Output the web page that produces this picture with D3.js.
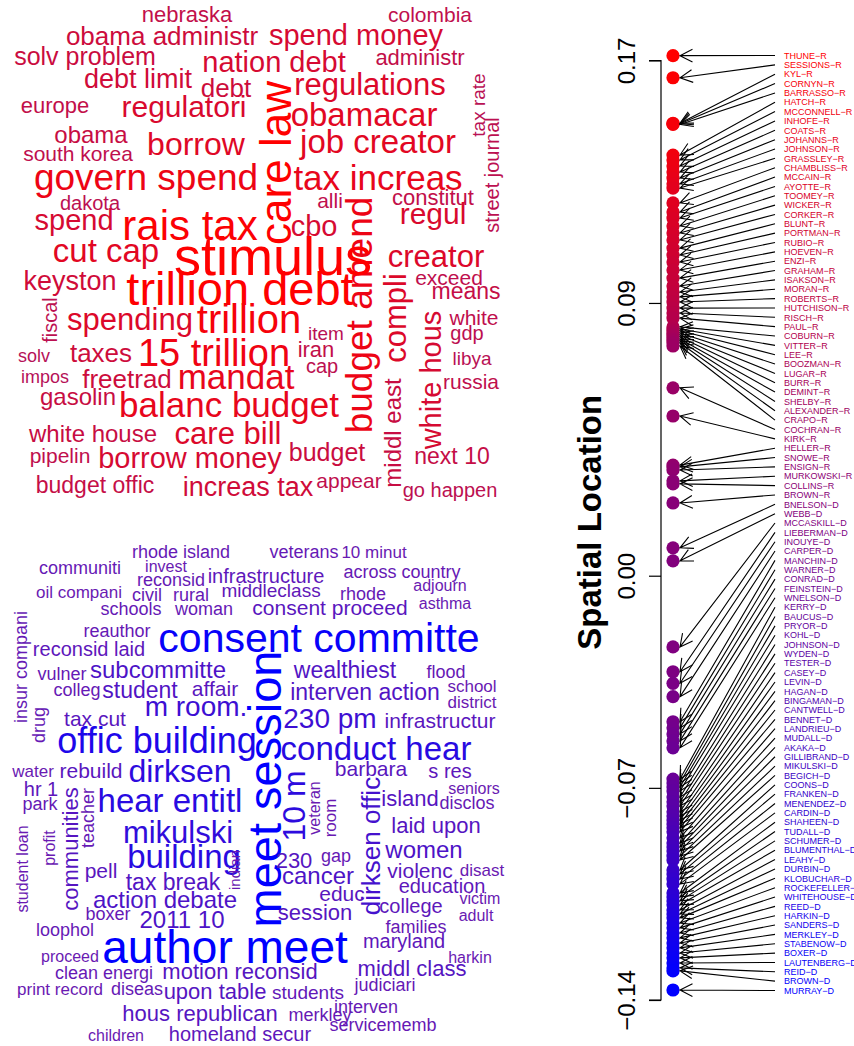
<!DOCTYPE html>
<html>
<head>
<meta charset="utf-8">
<script src="https://cdn.jsdelivr.net/npm/d3@7"></script>
<style>
  body { margin: 0; background: #fff; }
  text { font-family: "Liberation Sans", Arial, Helvetica, sans-serif; }
</style>
</head>
<body>
<svg id="chart" width="854" height="1046"></svg>
<script>
// ---------------------------------------------------------------
// Senators, ordered from the highest to the lowest spatial location
// ---------------------------------------------------------------
const senators = [
  "THUNE-R","SESSIONS-R","KYL-R","CORNYN-R","BARRASSO-R","HATCH-R","MCCONNELL-R","INHOFE-R","COATS-R","JOHANNS-R",
  "JOHNSON-R","GRASSLEY-R","CHAMBLISS-R","MCCAIN-R","AYOTTE-R","TOOMEY-R","WICKER-R","CORKER-R","BLUNT-R","PORTMAN-R",
  "RUBIO-R","HOEVEN-R","ENZI-R","GRAHAM-R","ISAKSON-R","MORAN-R","ROBERTS-R","HUTCHISON-R","RISCH-R","PAUL-R",
  "COBURN-R","VITTER-R","LEE-R","BOOZMAN-R","LUGAR-R","BURR-R","DEMINT-R","SHELBY-R","ALEXANDER-R","CRAPO-R",
  "COCHRAN-R","KIRK-R","HELLER-R","SNOWE-R","ENSIGN-R","MURKOWSKI-R","COLLINS-R","BROWN-R","BNELSON-D","WEBB-D",
  "MCCASKILL-D","LIEBERMAN-D","INOUYE-D","CARPER-D","MANCHIN-D","WARNER-D","CONRAD-D","FEINSTEIN-D","WNELSON-D","KERRY-D",
  "BAUCUS-D","PRYOR-D","KOHL-D","JOHNSON-D","WYDEN-D","TESTER-D","CASEY-D","LEVIN-D","HAGAN-D","BINGAMAN-D",
  "CANTWELL-D","BENNET-D","LANDRIEU-D","MUDALL-D","AKAKA-D","GILLIBRAND-D","MIKULSKI-D","BEGICH-D","COONS-D","FRANKEN-D",
  "MENENDEZ-D","CARDIN-D","SHAHEEN-D","TUDALL-D","SCHUMER-D","BLUMENTHAL-D","LEAHY-D","DURBIN-D","KLOBUCHAR-D","ROCKEFELLER-D",
  "WHITEHOUSE-D","REED-D","HARKIN-D","SANDERS-D","MERKLEY-D","STABENOW-D","BOXER-D","LAUTENBERG-D","REID-D","BROWN-D",
  "MURRAY-D"
];

// Estimated spatial location of each senator (same order as above)
const locations = [
  0.1716, 0.1643, 0.1493, 0.1491, 0.1489, 0.1388, 0.1372, 0.1352, 0.1332, 0.1312,
  0.1293, 0.1279, 0.1230, 0.1200, 0.1180, 0.1154, 0.1131, 0.1108, 0.1081, 0.1058,
  0.1035, 0.1009, 0.0982, 0.0956, 0.0936, 0.0920, 0.0903, 0.0883, 0.0867, 0.0850,
  0.0821, 0.0814, 0.0808, 0.0801, 0.0794, 0.0788, 0.0781, 0.0775, 0.0768, 0.0758,
  0.0620, 0.0527, 0.0365, 0.0359, 0.0349, 0.0313, 0.0303, 0.0240, 0.0092, 0.0049,
  -0.0235, -0.0317, -0.0355, -0.0399, -0.0482, -0.0502, -0.0522, -0.0545, -0.0568, -0.0671,
  -0.0684, -0.0697, -0.0710, -0.0730, -0.0746, -0.0760, -0.0779, -0.0793, -0.0806, -0.0819,
  -0.0832, -0.0845, -0.0865, -0.0882, -0.0895, -0.0908, -0.0925, -0.0938, -0.0971, -0.0984,
  -0.1001, -0.1017, -0.1047, -0.1060, -0.1073, -0.1086, -0.1103, -0.1116, -0.1129, -0.1146,
  -0.1162, -0.1179, -0.1195, -0.1212, -0.1228, -0.1245, -0.1261, -0.1278, -0.1294, -0.1304,
  -0.1367
];

const axisTicks = [0.17, 0.09, 0.00, -0.07, -0.14];
const axisTitle = "Spatial Location";

// ---------------------------------------------------------------
// Word clouds: terms and their weights
// ---------------------------------------------------------------
const rightWords = [
  "nebraska","colombia","obama administr","spend money","solv problem","nation debt","administr","debt limit","debt","regulations",
  "europe","regulatori","obamacar","tax rate","obama","borrow","job creator","street journal","south korea","care law",
  "govern spend","tax increas","dakota","alli","constitut","spend","rais tax","cbo","regul","budget amend",
  "cut cap","stimulus","creator","keyston","trillion debt","compli","exceed","means","fiscal","spending",
  "trillion","item","white","white hous","middl east","gdp","iran","solv","15 trillion","taxes",
  "cap","libya","impos","freetrad","mandat","russia","gasolin","balanc budget","white house","care bill",
  "pipelin","borrow money","budget","next 10","budget offic","increas tax","appear","go happen"
];
const rightWeights = [
  22, 21, 26, 29, 25, 29, 22, 27, 26, 31,
  22, 30, 33, 19, 24, 32, 33, 20, 21, 44,
  37, 35, 20, 21, 22, 29, 42, 29, 30, 37,
  33, 54, 31, 27, 47, 31, 21, 23, 20, 31,
  40, 19, 21, 29, 24, 20, 22, 18, 38, 26,
  20, 19, 18, 26, 35, 21, 24, 35, 24, 31,
  21, 29, 25, 23, 23, 27, 21, 20
];

const leftWords = [
  "rhode island","veterans","10 minut","communiti","invest","across country","reconsid","infrastructure","adjourn","oil compani",
  "civil","rural","middleclass","rhode","schools","woman","consent proceed","asthma","insur compani","reauthor",
  "consent committe","reconsid laid","vulner","subcommitte","wealthiest","flood","colleg","student","affair","meet session",
  "interven action","school","district","drug","tax cut","m room.","230 pm","infrastructur","offic building","conduct hear",
  "water","rebuild","dirksen","10 m","veteran","room","barbara","s res","hr 1","island",
  "seniors","disclos","communities","teacher","park","hear entitl","laid upon","student loan","profit","mikulski",
  "dirksen offic","230","gap","women","pell","building","cancer","violenc","disast","tax break",
  "indian","educ","education","action debate","victim","session","college","adult","2011 10","boxer",
  "families","loophol","author meet","maryland","harkin","proceed","clean energi","motion reconsid","middl class","print record",
  "diseas","upon table","students","judiciari","interven","hous republican","merkley","servicememb","children","homeland secur"
];
const leftWeights = [
  18, 18, 17, 18, 16, 18, 18, 20, 16, 17,
  18, 18, 19, 18, 18, 18, 21, 16, 18, 18,
  41, 20, 18, 24, 23, 18, 18, 23, 21, 47,
  23, 17, 17, 18, 21, 28, 28, 21, 36, 33,
  17, 21, 32, 32, 16, 17, 21, 20, 20, 22,
  16, 18, 22, 18, 18, 33, 22, 16, 16, 31,
  26, 22, 18, 24, 21, 33, 24, 21, 17, 23,
  15, 21, 20, 24, 16, 22, 20, 16, 24, 18,
  18, 18, 46, 20, 16, 16, 18, 22, 22, 17,
  18, 22, 19, 18, 18, 22, 18, 18, 16, 20
];

// Placement of each term inside its cloud: [x, baseline y, rotation]
const rightPlacement = [
  [187,22,0],[430,22,0],[162,45,0],[356,45,0],[85,65,0],[274,72,0],[420,65,0],[138,88,0],[226,97,0],[370,95,0],
  [55,113,0],[184,117,0],[364,126,0],[485,105,-90],[91,143,0],[196,155,0],[378,153,0],[499,175,-90],[78,161,0],[291,163,-90],
  [146,190,0],[378,190,0],[90,210,0],[330,208,0],[433,205,0],[74,230,0],[190,240,0],[314,236,0],[433,224,0],[372,315,-90],
  [106,262,0],[273,275,0],[436,267,0],[70,290,0],[240,305,0],[406,318,-90],[449,285,0],[466,299,0],[57,320,-90],[130,330,0],
  [249,333,0],[326,340,0],[474,325,0],[441,380,-90],[401,433,-90],[467,340,0],[316,357,0],[34,362,0],[214,366,0],[101,362,0],
  [322,373,0],[472,365,0],[45,383,0],[127,388,0],[236,389,0],[471,389,0],[78,405,0],[229,417,0],[93,442,0],[228,444,0],
  [60,463,0],[190,468,0],[327,461,0],[452,464,0],[95,493,0],[248,496,0],[349,488,0],[450,497,0]
];
const leftPlacement = [
  [181,558,0],[304,558,0],[374,558,0],[80,574,0],[166,572,0],[402,578,0],[171,586,0],[266,583,0],[440,591,0],[79,598,0],
  [147,601,0],[191,601,0],[271,597,0],[363,600,0],[131,615,0],[204,615,0],[330,615,0],[445,609,0],[27,667,-90],[117,637,0],
  [319,652,0],[89,656,0],[62,680,0],[158,678,0],[345,678,0],[446,678,0],[77,696,0],[140,698,0],[215,696,0],[281,789,-90],
  [365,700,0],[472,692,0],[472,708,0],[45,725,-90],[95,726,0],[196,716,0],[330,728,0],[440,728,0],[157,753,0],[376,760,0],
  [33,777,0],[91,778,0],[180,782,0],[305,806,-90],[320,808,-90],[336,818,-90],[371,776,0],[450,778,0],[41,796,0],[410,806,0],
  [474,794,0],[467,809,0],[78,849,-90],[94,818,-90],[40,810,0],[170,812,0],[436,833,0],[28,869,-90],[55,848,-90],[178,843,0],
  [380,846,-90],[294,868,0],[336,862,0],[424,858,0],[101,878,0],[184,868,0],[318,884,0],[420,878,0],[482,876,0],[173,890,0],
  [240,870,-90],[342,901,0],[442,893,0],[165,908,0],[480,904,0],[315,920,0],[411,913,0],[476,921,0],[182,928,0],[108,920,0],
  [416,933,0],[65,936,0],[225,963,0],[404,948,0],[470,963,0],[70,962,0],[104,979,0],[240,979,0],[412,976,0],[60,995,0],
  [137,995,0],[215,999,0],[308,999,0],[385,991,0],[366,1013,0],[200,1021,0],[320,1021,0],[383,1031,0],[116,1041,0],[240,1041,0]
];

// ---------------------------------------------------------------
const svg = d3.select("#chart");

function drawCloud(words, weights, placement, colorRange) {
  const size = d3.scaleLinear().domain([16, 54]).range([16, 54]);
  const color = d3.scaleLinear().domain([17, 43]).range(colorRange)
                  .interpolate(d3.interpolateRgb).clamp(true);
  const rows = words.map((w, i) => ({
    text: w, weight: weights[i],
    x: placement[i][0], y: placement[i][1], r: placement[i][2]
  }));
  svg.append("g").selectAll("text").data(rows).join("text")
    .attr("transform", d => `translate(${d.x},${d.y}) rotate(${d.r})`)
    .attr("text-anchor", "middle")
    .attr("font-size", d => size(d.weight) + "px")
    .attr("fill", d => color(d.weight))
    .text(d => d.text);
}

drawCloud(rightWords, rightWeights, rightPlacement, ["#B3125C", "#FF0000"]);
drawCloud(leftWords, leftWeights, leftPlacement, ["#6A1AB2", "#0000FF"]);

// ---------------------------------------------------------------
// Spatial location strip with labelled arrows
// ---------------------------------------------------------------
const yLoc = d3.scaleLinear().domain([-0.14, 0.17]).range([1000, 60.5]);
const labelY = d3.scalePoint().domain(senators).range([55.5, 990.5]);
const rankColor = d3.scaleLinear().domain([0, senators.length - 1])
                    .range(["#FF0000", "#0000FF"]).interpolate(d3.interpolateRgb);

const axisX = 661, dotX = 673, tipX = 680, lineX = 775, labelX = 784;

const axis = d3.axisLeft(yLoc).tickValues(axisTicks).tickSize(12).tickPadding(0)
  .tickFormat(d => d3.format(".2f")(d).replace("-", "\u2212"));
const gAxis = svg.append("g").attr("transform", `translate(${axisX},0)`).call(axis);
gAxis.select(".domain").attr("stroke", "#000").attr("stroke-width", 1.2)
  .attr("d", `M-12,${yLoc(0.17)}H0V${yLoc(-0.14)}H-12`);
gAxis.selectAll(".tick line").attr("stroke", "#000").attr("stroke-width", 1.2);
gAxis.selectAll(".tick text")
  .attr("x", null).attr("dy", null)
  .attr("transform", "translate(-26,0) rotate(-90)")
  .attr("text-anchor", "middle")
  .attr("font-size", "24px")
  .attr("fill", "#000")
  .attr("font-family", "Liberation Sans, Arial, sans-serif");

svg.append("text")
  .attr("transform", `translate(601,${(yLoc(0.17) + yLoc(-0.14)) / 2 - 8}) rotate(-90)`)
  .attr("text-anchor", "middle")
  .attr("font-size", "33px")
  .attr("font-weight", "bold")
  .text(axisTitle);

const rows = senators.map((s, i) => ({ name: s, loc: locations[i], i }));

svg.append("g").selectAll("circle").data(rows).join("circle")
  .attr("cx", dotX).attr("cy", d => yLoc(d.loc)).attr("r", 6.6)
  .attr("fill", d => rankColor(d.i));

const arrows = svg.append("g").attr("stroke", "#000").attr("stroke-width", 1.1).attr("fill", "none");
const headLen = 14, headAng = 27 * Math.PI / 180;
rows.forEach(d => {
  const x0 = lineX, y0 = labelY(d.name), x1 = tipX, y1 = yLoc(d.loc);
  const a = Math.atan2(y0 - y1, x0 - x1);
  const p = d3.path();
  p.moveTo(x0, y0); p.lineTo(x1, y1);
  p.moveTo(x1 + headLen * Math.cos(a + headAng), y1 + headLen * Math.sin(a + headAng));
  p.lineTo(x1, y1);
  p.lineTo(x1 + headLen * Math.cos(a - headAng), y1 + headLen * Math.sin(a - headAng));
  arrows.append("path").attr("d", p.toString());
});

svg.append("g").selectAll("text").data(rows).join("text")
  .attr("x", labelX).attr("y", d => labelY(d.name)).attr("dy", "0.36em")
  .attr("font-size", "9px")
  .attr("fill", d => rankColor(d.i))
  .text(d => d.name.replace("-", "\u2212"));
</script>
</body>
</html>
